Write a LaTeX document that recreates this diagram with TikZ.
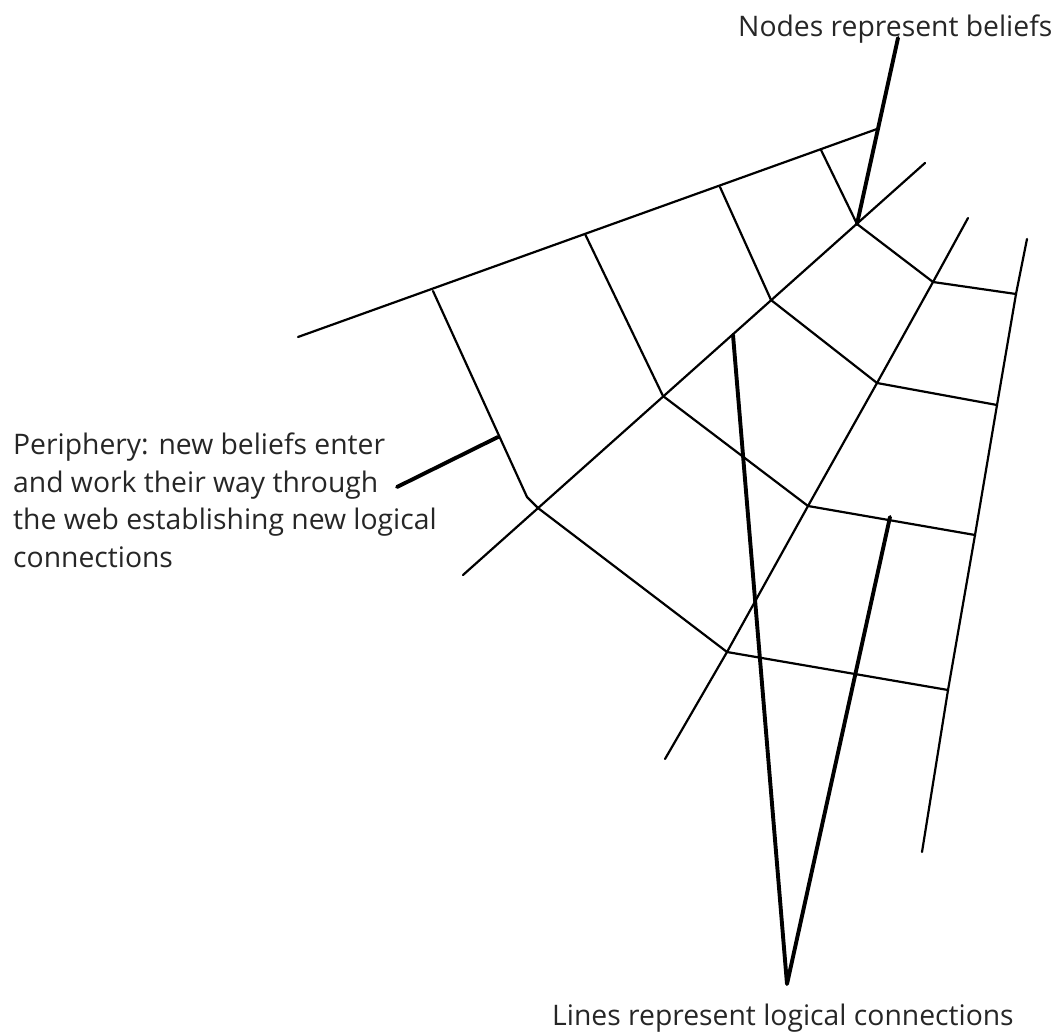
\documentclass[tikz,border=0pt]{standalone}
\usepackage{fontspec}
\setmainfont{Open Sans}
\begin{document}
\begin{tikzpicture}[x=1pt,y=-1pt,
  web/.style={line width=2.2pt, line cap=round, line join=round},
  pointer/.style={line width=3.9pt, line cap=round, line join=round},
  lbl/.style={font=\fontsize{28.3}{37.5}\selectfont, inner sep=0pt, text=black!85}]
\useasboundingbox (0,0) rectangle (1056,1032);
% outer periphery line
\coordinate (o0) at (298,337);
\coordinate (o1) at (433,291);
\coordinate (o2) at (585,234);
\coordinate (o3) at (720,187);
\coordinate (o4) at (821,150);
\coordinate (o5) at (877,129);
% radial A
\coordinate (a0) at (463,575);
\coordinate (a1) at (538,508);
\coordinate (a2) at (663,396);
\coordinate (a3) at (771,300);
\coordinate (a4) at (857,224);
\coordinate (a5) at (925,163);
\coordinate (bend) at (527,497);
% radial B
\coordinate (b0) at (665,759);
\coordinate (b1) at (727,652);
\coordinate (b2) at (808,506);
\coordinate (b3) at (877,383);
\coordinate (b4) at (933,282);
\coordinate (b5) at (968,218);
% radial C
\coordinate (c0) at (1027,239);
\coordinate (c1) at (1016,294);
\coordinate (c2) at (997,405);
\coordinate (c3) at (975,535);
\coordinate (c4) at (948,690);
\coordinate (c5) at (922,852);
% pointers
\coordinate (t0) at (898,38);
\coordinate (p0) at (397,487);
\coordinate (p1) at (498,437);
\coordinate (v0) at (733,335);
\coordinate (vx) at (787,984);
\coordinate (v1) at (890,517);

\draw[web] (o0) -- (o5);
\draw[web] (o1) -- (bend) -- (a1);
\draw[web] (o2) -- (a2);
\draw[web] (o3) -- (a3);
\draw[web] (o4) -- (a4);
\draw[web] (a0) -- (a5);
\draw[web] (b0) -- (b1) -- (b2) -- (b3) -- (b4) -- (b5);
\draw[web] (c0) -- (c1) -- (c2) -- (c3) -- (c4) -- (c5);
\draw[web] (a1) -- (b1);
\draw[web] (a2) -- (b2);
\draw[web] (a3) -- (b3);
\draw[web] (a4) -- (b4);
\draw[web] (b1) -- (c4);
\draw[web] (b2) -- (c3);
\draw[web] (b3) -- (c2);
\draw[web] (b4) -- (c1);

\draw[pointer] (t0) -- (a4);
\draw[pointer] (p0) -- (p1);
\draw[pointer] (v0) -- (vx) -- (v1);

\node[lbl, anchor=base west] (nodes) at (738,37) {Nodes represent beliefs};
\node[lbl, anchor=base west] (lines) at (552,1025) {Lines represent logical connections};
\node[lbl, anchor=north west, align=left] (periph) at (13,433) {Periphery: new beliefs enter\\and work their way through\\the web establishing new logical\\connections};
\end{tikzpicture}
\end{document}
